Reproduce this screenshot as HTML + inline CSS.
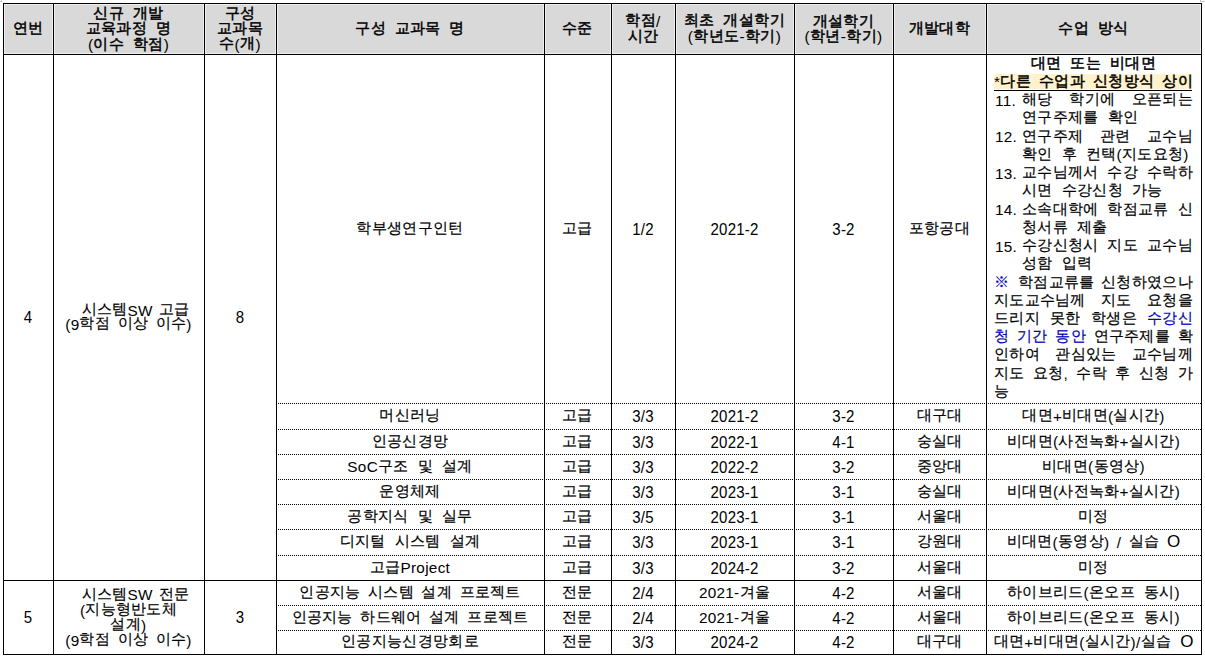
<!DOCTYPE html>
<html><head><meta charset="utf-8"><style>
html,body{margin:0;padding:0;background:#fff;width:1205px;height:659px;overflow:hidden;position:relative}
body{font-family:"Liberation Sans",sans-serif;font-size:15.3px;line-height:20px;color:#000;-webkit-text-stroke:0.2px #000}
.g{position:absolute;top:5px;height:48px;background:#d9d9d9;box-shadow:0 0 0 1px #efefef}
.h{position:absolute;left:3px;width:1199px;height:1px;background:#000}
.v{position:absolute;top:3px;width:1px;height:652px;background:#000}
.d{position:absolute;left:278px;width:923px;height:1px;background:repeating-linear-gradient(to right,#000 0 1px,transparent 1px 2px)}
.t{position:absolute;white-space:pre;text-align:center;height:20px;letter-spacing:0.3px;word-spacing:4.5px}
.b{font-weight:normal;letter-spacing:0.4px;word-spacing:4px;-webkit-text-stroke:0.5px #000}
.jj{text-align:justify;text-align-last:justify;white-space:normal;word-spacing:0}
.ll{text-align:left}
.bl{color:#0000ff}
.o{font-size:17px;top:0.5px !important;letter-spacing:0}
.dg{font-size:16.5px;transform:scaleX(0.91);-webkit-text-stroke:0;letter-spacing:0.2px}
.a{position:relative;top:1.5px;-webkit-text-stroke:0}
.hlbg{position:absolute;background:#fff2cc}
.hlul{position:absolute;height:1px;background:#000}
.cm{position:absolute;background:#c8c8c8}
</style></head><body>
<div class="cm" style="left:0;top:1px;width:2px;height:1px"></div><div class="cm" style="left:1px;top:0;width:1px;height:2px"></div>
<div class="cm" style="left:1200px;top:1px;width:5px;height:1px"></div><div class="cm" style="left:1200px;top:0;width:1px;height:2px"></div>
<div class="g" style="left:5px;width:47px"></div><div class="g" style="left:55px;width:148px"></div><div class="g" style="left:206px;width:69px"></div><div class="g" style="left:278px;width:265px"></div><div class="g" style="left:546px;width:64px"></div><div class="g" style="left:613px;width:61px"></div><div class="g" style="left:677px;width:116px"></div><div class="g" style="left:796px;width:96px"></div><div class="g" style="left:895px;width:90px"></div><div class="g" style="left:988px;width:212px"></div><div class="h" style="top:3px"></div><div class="h" style="top:54px"></div><div class="h" style="top:580px"></div><div class="h" style="top:654px"></div><div class="v" style="left:3px"></div><div class="v" style="left:53px"></div><div class="v" style="left:204px"></div><div class="v" style="left:276px"></div><div class="v" style="left:544px"></div><div class="v" style="left:611px"></div><div class="v" style="left:675px"></div><div class="v" style="left:794px"></div><div class="v" style="left:893px"></div><div class="v" style="left:986px"></div><div class="v" style="left:1201px"></div><div class="d" style="top:403px"></div><div class="d" style="top:429px"></div><div class="d" style="top:454px"></div><div class="d" style="top:479px"></div><div class="d" style="top:504px"></div><div class="d" style="top:529px"></div><div class="d" style="top:555px"></div><div class="d" style="top:605px"></div><div class="d" style="top:630px"></div><div class="t b" style="left:3px;width:50px;top:18.0px">연번</div><div class="t b" style="left:53px;width:151px;top:3.0px">신규 개발</div><div class="t b" style="left:53px;width:151px;top:18.0px">교육과정 명</div><div class="t b" style="left:53px;width:151px;top:33.5px"><span class="a">(</span>이수 학점<span class="a">)</span></div><div class="t b" style="left:204px;width:72px;top:2.8px">구성</div><div class="t b" style="left:204px;width:72px;top:18.2px">교과목</div><div class="t b" style="left:204px;width:72px;top:33.2px">수<span class="a">(</span>개<span class="a">)</span></div><div class="t b" style="left:276px;width:268px;top:18.2px">구성 교과목 명</div><div class="t b" style="left:544px;width:67px;top:18.0px">수준</div><div class="t b" style="left:611px;width:64px;top:10.3px">학점<span class="a">/</span></div><div class="t b" style="left:611px;width:64px;top:25.5px">시간</div><div class="t b" style="left:675px;width:119px;top:10.3px">최초 개설학기</div><div class="t b" style="left:675px;width:119px;top:25.5px"><span class="a">(</span>학년도<span class="a">-</span>학기<span class="a">)</span></div><div class="t b" style="left:794px;width:99px;top:10.5px">개설학기</div><div class="t b" style="left:794px;width:99px;top:25.8px"><span class="a">(</span>학년<span class="a">-</span>학기<span class="a">)</span></div><div class="t b" style="left:893px;width:93px;top:18.2px">개발대학</div><div class="t b" style="left:986px;width:215px;top:18.1px">수업 방식</div><div class="t dg" style="left:3px;width:50px;top:307.0px">4</div><div class="t" style="left:60px;width:151px;top:299.0px;word-spacing:1.5px">시스템<span class="a">SW</span> 고급</div><div class="t" style="left:53px;width:151px;top:313.0px;word-spacing:3px"><span class="a">(9</span>학점 이상 이수<span class="a">)</span></div><div class="t dg" style="left:204px;width:72px;top:307.0px">8</div><div class="t" style="left:276px;width:268px;top:218.4px">학부생연구인턴</div><div class="t" style="left:544px;width:67px;top:218.4px">고급</div><div class="t dg" style="left:611px;width:64px;top:219.4px">1/2</div><div class="t dg" style="left:675px;width:119px;top:219.4px">2021-2</div><div class="t dg" style="left:794px;width:99px;top:219.4px">3-2</div><div class="t" style="left:893px;width:93px;top:218.4px">포항공대</div><div class="t" style="left:276px;width:268px;top:405.0px">머신러닝</div><div class="t" style="left:544px;width:67px;top:405.0px">고급</div><div class="t dg" style="left:611px;width:64px;top:406.0px">3/3</div><div class="t dg" style="left:675px;width:119px;top:406.0px">2021-2</div><div class="t dg" style="left:794px;width:99px;top:406.0px">3-2</div><div class="t" style="left:893px;width:93px;top:405.0px">대구대</div><div class="t" style="left:986px;width:215px;top:405.0px">대면<span class="a">+</span>비대면<span class="a">(</span>실시간<span class="a">)</span></div><div class="t" style="left:276px;width:268px;top:430.5px">인공신경망</div><div class="t" style="left:544px;width:67px;top:430.5px">고급</div><div class="t dg" style="left:611px;width:64px;top:431.5px">3/3</div><div class="t dg" style="left:675px;width:119px;top:431.5px">2022-1</div><div class="t dg" style="left:794px;width:99px;top:431.5px">4-1</div><div class="t" style="left:893px;width:93px;top:430.5px">숭실대</div><div class="t" style="left:986px;width:215px;top:430.5px">비대면<span class="a">(</span>사전녹화<span class="a">+</span>실시간<span class="a">)</span></div><div class="t" style="left:276px;width:268px;top:455.5px"><span class="a">SoC</span>구조 및 설계</div><div class="t" style="left:544px;width:67px;top:455.5px">고급</div><div class="t dg" style="left:611px;width:64px;top:456.5px">3/3</div><div class="t dg" style="left:675px;width:119px;top:456.5px">2022-2</div><div class="t dg" style="left:794px;width:99px;top:456.5px">3-2</div><div class="t" style="left:893px;width:93px;top:455.5px">중앙대</div><div class="t" style="left:986px;width:215px;top:455.5px">비대면<span class="a">(</span>동영상<span class="a">)</span></div><div class="t" style="left:276px;width:268px;top:480.5px">운영체제</div><div class="t" style="left:544px;width:67px;top:480.5px">고급</div><div class="t dg" style="left:611px;width:64px;top:481.5px">3/3</div><div class="t dg" style="left:675px;width:119px;top:481.5px">2023-1</div><div class="t dg" style="left:794px;width:99px;top:481.5px">3-1</div><div class="t" style="left:893px;width:93px;top:480.5px">숭실대</div><div class="t" style="left:986px;width:215px;top:480.5px">비대면<span class="a">(</span>사전녹화<span class="a">+</span>실시간<span class="a">)</span></div><div class="t" style="left:276px;width:268px;top:505.5px">공학지식 및 실무</div><div class="t" style="left:544px;width:67px;top:505.5px">고급</div><div class="t dg" style="left:611px;width:64px;top:506.5px">3/5</div><div class="t dg" style="left:675px;width:119px;top:506.5px">2023-1</div><div class="t dg" style="left:794px;width:99px;top:506.5px">3-1</div><div class="t" style="left:893px;width:93px;top:505.5px">서울대</div><div class="t" style="left:986px;width:215px;top:505.5px">미정</div><div class="t" style="left:276px;width:268px;top:531.0px">디지털 시스템 설계</div><div class="t" style="left:544px;width:67px;top:531.0px">고급</div><div class="t dg" style="left:611px;width:64px;top:532.0px">3/3</div><div class="t dg" style="left:675px;width:119px;top:532.0px">2023-1</div><div class="t dg" style="left:794px;width:99px;top:532.0px">3-1</div><div class="t" style="left:893px;width:93px;top:531.0px">강원대</div><div class="t" style="left:986px;width:215px;top:531.0px;word-spacing:3px">비대면<span class="a">(</span>동영상<span class="a">)</span> <span class="a">/</span> 실습 <span class="a o">O</span></div><div class="t" style="left:276px;width:268px;top:556.5px">고급<span class="a">Project</span></div><div class="t" style="left:544px;width:67px;top:556.5px">고급</div><div class="t dg" style="left:611px;width:64px;top:557.5px">3/3</div><div class="t dg" style="left:675px;width:119px;top:557.5px">2024-2</div><div class="t dg" style="left:794px;width:99px;top:557.5px">3-2</div><div class="t" style="left:893px;width:93px;top:556.5px">서울대</div><div class="t" style="left:986px;width:215px;top:556.5px">미정</div><div class="t" style="left:276px;width:268px;top:581.5px;word-spacing:3px">인공지능 시스템 설계 프로젝트</div><div class="t" style="left:544px;width:67px;top:581.5px">전문</div><div class="t dg" style="left:611px;width:64px;top:582.5px">2/4</div><div class="t" style="left:675px;width:119px;top:581.5px"><span class="a">2021-</span>겨울</div><div class="t dg" style="left:794px;width:99px;top:582.5px">4-2</div><div class="t" style="left:893px;width:93px;top:581.5px">서울대</div><div class="t" style="left:986px;width:215px;top:581.5px">하이브리드<span class="a">(</span>온오프 동시<span class="a">)</span></div><div class="t" style="left:276px;width:268px;top:606.5px;word-spacing:3px">인공지능 하드웨어 설계 프로젝트</div><div class="t" style="left:544px;width:67px;top:606.5px">전문</div><div class="t dg" style="left:611px;width:64px;top:607.5px">2/4</div><div class="t" style="left:675px;width:119px;top:606.5px"><span class="a">2021-</span>겨울</div><div class="t dg" style="left:794px;width:99px;top:607.5px">4-2</div><div class="t" style="left:893px;width:93px;top:606.5px">서울대</div><div class="t" style="left:986px;width:215px;top:606.5px">하이브리드<span class="a">(</span>온오프 동시<span class="a">)</span></div><div class="t" style="left:276px;width:268px;top:631.0px">인공지능신경망회로</div><div class="t" style="left:544px;width:67px;top:631.0px">전문</div><div class="t dg" style="left:611px;width:64px;top:632.0px">3/3</div><div class="t dg" style="left:675px;width:119px;top:632.0px">2024-2</div><div class="t dg" style="left:794px;width:99px;top:632.0px">4-2</div><div class="t" style="left:893px;width:93px;top:631.0px">대구대</div><div class="t" style="left:986px;width:215px;top:631.0px">대면<span class="a">+</span>비대면<span class="a">(</span>실시간<span class="a">)/</span>실습 <span class="a o">O</span></div><div class="t dg" style="left:3px;width:50px;top:606.5px">5</div><div class="t dg" style="left:204px;width:72px;top:606.5px">3</div><div class="t" style="left:60px;width:151px;top:583.5px;word-spacing:1.5px">시스템<span class="a">SW</span> 전문</div><div class="t" style="left:53px;width:151px;top:599.0px"><span class="a">(</span>지능형반도체</div><div class="t" style="left:53px;width:151px;top:614.0px">설계<span class="a">)</span></div><div class="t" style="left:53px;width:151px;top:629.0px;word-spacing:3px"><span class="a">(9</span>학점 이상 이수<span class="a">)</span></div><div class="t b" style="left:986px;width:215px;top:52.6px">대면 또는 비대면</div><div class="hlbg" style="left:994px;width:198px;top:74px;height:15px"></div><div class="hlul" style="left:994px;width:198px;top:90px"></div><div class="t b jj" style="left:994px;width:199px;top:70.8px"><span class="a">*</span>다른 수업과 신청방식 상이</div><div class="t ll" style="left:995px;top:89.1px"><span class="a">11.</span></div><div class="t jj" style="left:1022px;width:171px;top:89.1px">해당 학기에 오픈되는</div><div class="t ll" style="left:1022px;top:107.3px">연구주제를 확인</div><div class="t ll" style="left:995px;top:125.6px"><span class="a">12.</span></div><div class="t jj" style="left:1022px;width:171px;top:125.6px">연구주제 관련 교수님</div><div class="t ll" style="left:1022px;top:143.8px">확인 후 컨택<span class="a">(</span>지도요청<span class="a">)</span></div><div class="t ll" style="left:995px;top:162.0px"><span class="a">13.</span></div><div class="t jj" style="left:1022px;width:171px;top:162.0px">교수님께서 수강 수락하</div><div class="t ll" style="left:1022px;top:180.3px">시면 수강신청 가능</div><div class="t ll" style="left:995px;top:198.5px"><span class="a">14.</span></div><div class="t jj" style="left:1022px;width:171px;top:198.5px">소속대학에 학점교류 신</div><div class="t ll" style="left:1022px;top:216.8px">청서류 제출</div><div class="t ll" style="left:995px;top:235.0px"><span class="a">15.</span></div><div class="t jj" style="left:1022px;width:171px;top:235.0px">수강신청시 지도 교수님</div><div class="t ll" style="left:1022px;top:253.2px">성함 입력</div><div class="t jj" style="left:994px;width:199px;top:271.5px"><span class="bl">※</span> 학점교류를 신청하였으나</div><div class="t jj" style="left:994px;width:199px;top:289.7px">지도교수님께 지도 요청을</div><div class="t jj" style="left:994px;width:199px;top:308.0px">드리지 못한 학생은 <span class="bl">수강신</span></div><div class="t jj" style="left:994px;width:199px;top:326.2px"><span class="bl">청 기간 동안</span> 연구주제를 확</div><div class="t jj" style="left:994px;width:199px;top:344.4px">인하여 관심있는 교수님께</div><div class="t jj" style="left:994px;width:199px;top:362.7px">지도 요청<span class="a">,</span> 수락 후 신청 가</div><div class="t ll" style="left:994px;top:380.9px">능</div>
</body></html>
